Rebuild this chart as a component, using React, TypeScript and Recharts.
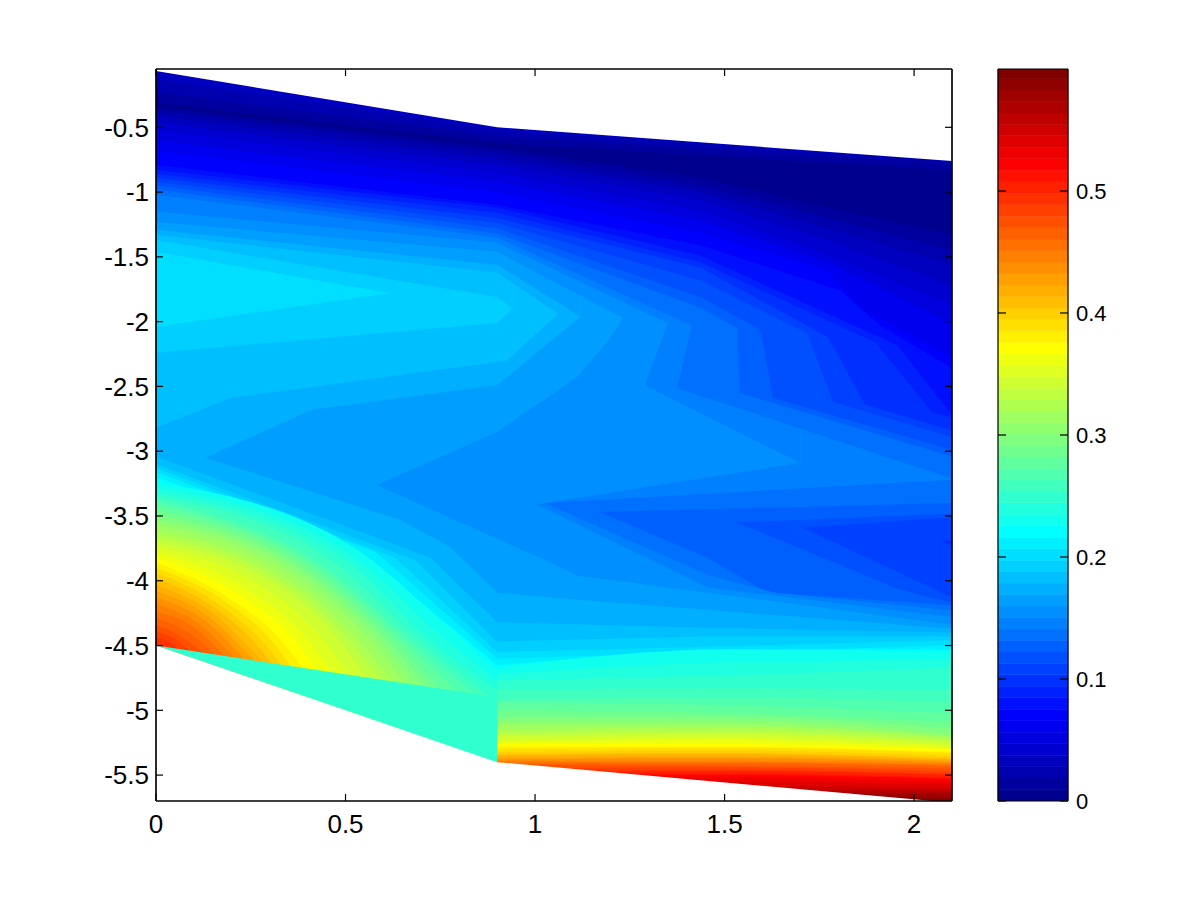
import { Area, Bar, BarChart, ComposedChart, XAxis, YAxis } from "recharts";

type Pt = [number, number];
type Contour = [number, Pt[]];

// axis limits and ticks
const X_MIN = 0;
const X_MAX = 2.1;
const Y_TOP = -0.05;
const Y_BOT = -5.7;
const xTicks = [0, 0.5, 1, 1.5, 2];
const yTicks = [-5.5, -5, -4.5, -4, -3.5, -3, -2.5, -2, -1.5, -1, -0.5];
const barTicks = [0, 0.1, 0.2, 0.3, 0.4, 0.5];

// section outline, white outside of it
const surface: Pt[] = [[0, -0.065], [0.9, -0.5], [2.1, -0.76]];
const seabed: Pt[] = [[0, -4.5], [0.9, -5.4], [2.05, -5.7], [2.1, -5.7]];
const wedgeTop: Pt[] = [[0, -4.5], [0.9, -4.9]];

// level, then the contour that level fills up to the surface from (high levels first)
const aboveContours: Contour[] = [
  [20, [[0, -1.46], [0.617, -1.78]]],
  [19, [[0, -1.37], [0.9, -1.81], [0.94, -1.9]]],
  [18, [[0, -1.33], [0.9, -1.62], [1.06, -1.94]]],
  [17, [[0, -1.29], [0.9, -1.56], [1.12, -1.96]]],
  [16, [[0, -1.23], [0.9, -1.46], [1.232, -1.97]]],
  [15, [[0, -1.15], [0.9, -1.39], [1.35, -2.01]]],
  [14, [[0, -1.02], [0.9, -1.35], [1.414, -2.03]]],
  [13, [[0, -0.98], [0.9, -1.32], [1.435, -1.89], [1.533, -2.05], [1.54, -2.55], [2.1, -3.04]]],
  [12, [[0, -0.95], [0.9, -1.28], [1.435, -1.81], [1.594, -2.06], [1.628, -2.59], [2.1, -2.99]]],
  [11, [[0, -0.92], [0.9, -1.24], [1.435, -1.68], [1.718, -2.09], [1.786, -2.62], [2.1, -2.89]]],
  [10, [[0, -0.89], [0.9, -1.2], [1.435, -1.58], [1.773, -2.12], [1.87, -2.64], [2.1, -2.84]]],
  [9, [[0, -0.86], [0.9, -1.16], [1.435, -1.54], [1.897, -2.16], [2.048, -2.7], [2.1, -2.74]]],
  [8, [[0, -0.83], [0.9, -1.12], [1.435, -1.49], [1.955, -2.18], [2.1, -2.72]]],
  [7, [[0, -0.79], [0.9, -1.1], [1.435, -1.41], [1.805, -1.76], [1.91, -2.03], [2.1, -2.36]]],
  [6, [[0, -0.68], [0.9, -1.0], [1.435, -1.31], [1.77, -1.6], [1.865, -1.91], [2.1, -2.27]]],
  [5, [[0, -0.6], [0.9, -0.92], [1.435, -1.22], [1.77, -1.54], [2.1, -2.02]]],
  [4, [[0, -0.52], [0.9, -0.85], [1.435, -1.14], [1.75, -1.46], [2.1, -1.87]]],
  [3, [[0, -0.46], [0.9, -0.79], [1.435, -1.06], [1.77, -1.37], [2.1, -1.72]]],
  [2, [[0, -0.41], [0.9, -0.74], [1.435, -1.0], [1.77, -1.28], [2.1, -1.56]]],
  [1, [[0, -0.37], [0.9, -0.69], [1.435, -0.95], [1.77, -1.2], [2.1, -1.45]]],
  [0, [[0, -0.34], [0.9, -0.66], [1.435, -0.89], [1.77, -1.12], [2.1, -1.33]]],
];

// thin skin of slightly higher values right under the surface
const surfaceCaps: Contour[] = [
  [1, [[0, -0.31], [0.9, -0.62], [2.1, -0.83]]],
  [2, [[0, -0.23], [0.9, -0.57], [2.1, -0.78]]],
  [3, [[0, -0.13], [0.9, -0.52], [2.1, -0.76]]],
];

// lenses and the return side of the fingers, filled down to the axis floor
const fingerContours: Contour[] = [
  [20, [[0, -2.04], [0.617, -1.78], [0.617, Y_TOP], [2.1, Y_TOP]]],
  [19, [[0, -2.24], [0.9, -2.01], [0.94, -1.9], [0.94, Y_TOP], [2.1, Y_TOP]]],
  [18, [[0, -2.82], [0.195, -2.59], [0.926, -2.3], [1.06, -1.94], [1.06, Y_TOP], [2.1, Y_TOP]]],
  [17, [[0.13, -3.05], [0.41, -2.68], [0.9, -2.49], [1.12, -1.96], [1.12, Y_TOP], [2.1, Y_TOP]]],
  [16, [[0.583, -3.26], [0.9, -2.85], [1.11, -2.43], [1.19, -2.16], [1.232, -1.97], [1.232, Y_TOP], [2.1, Y_TOP]]],
  [15, [[1.005, -3.41], [1.7, -3.09], [1.7, Y_TOP], [2.1, Y_TOP]]],
  [14, [[1.026, -3.4], [2.1, -3.22]]],
  [13, [[1.17, -3.47], [2.1, -3.4]]],
  [12, [[1.533, -3.55], [2.1, -3.48]]],
  [11, [[1.707, -3.59], [2.1, -3.51]]],
  [10, [[2.069, -3.69], [2.1, -3.69]]],
];

// x, lower, upper: the fold of levels 15 and 14 where the contour doubles back
const fold15: [number, number, number][] = [
  [1.29, -2.49, -2.49],
  [1.35, -2.58, -2.01],
  [1.35, -2.58, Y_TOP],
  [1.7, -3.09, Y_TOP],
];
const fold14: [number, number, number][] = [
  [1.375, -2.51, -2.51],
  [1.414, -2.55, -2.03],
  [1.414, -2.55, Y_TOP],
  [2.1, -3.21, Y_TOP],
];

// rising values toward the bottom, low levels first
const belowContours: Contour[] = [
  [11, [[2.069, -3.69], [2.1, -3.73]]],
  [12, [[1.707, -3.59], [2.1, -4.13]]],
  [13, [[1.533, -3.55], [1.963, -4.07], [2.1, -4.17]]],
  [14, [[1.17, -3.47], [1.454, -3.82], [1.612, -4.09], [2.1, -4.19]]],
  [15, [[1.026, -3.4], [1.46, -3.96], [1.63, -4.09], [2.1, -4.23]]],
  [16, [[1.005, -3.41], [1.454, -4.05], [2.1, -4.28]]],
  [17, [[0.583, -3.26], [1.04, -3.86], [1.11, -3.96], [2.1, -4.34]]],
  [18, [[0.13, -3.05], [0.644, -3.53], [0.776, -3.74], [0.9, -4.09], [1.04, -4.13], [2.1, -4.37]]],
  [19, [[0, -3.04], [0.723, -3.82], [0.9, -4.32], [1.435, -4.36], [2.1, -4.4]]],
  [20, [[0, -3.1], [0.683, -3.84], [0.9, -4.47], [1.435, -4.43], [2.1, -4.43]]],
  [21, [[0, -3.13], [0.63, -3.82], [0.9, -4.55], [2.1, -4.46]]],
  [22, [[0, -3.16], [0.58, -3.78], [0.9, -4.6], [2.1, -4.5]]],
  [23, [[0, -3.2], [0.525, -3.75], [0.9, -4.65], [1.435, -4.53], [2.1, -4.53]]],
];

// warm part left of the step at x = 0.9
const leftBlock: Contour[] = [
  [24, [[0, -3.24], [0.54, -3.78], [0.75, -4.3], [0.9, -4.69]]],
  [25, [[0, -3.28], [0.52, -3.81], [0.735, -4.38], [0.9, -4.77]]],
  [26, [[0, -3.32], [0.5, -3.84], [0.723, -4.46], [0.9, -4.84]]],
  [27, [[0, -3.35], [0.48, -3.88], [0.695, -4.46], [0.875, -4.88]]],
  [28, [[0, -3.38], [0.46, -3.92], [0.67, -4.46], [0.855, -4.9]]],
  [29, [[0, -3.41], [0.435, -3.91], [0.645, -4.44], [0.81, -4.9]]],
  [30, [[0, -3.45], [0.41, -3.9], [0.617, -4.42], [0.763, -4.88]]],
  [31, [[0, -3.49], [0.38, -3.89], [0.59, -4.4], [0.73, -4.86]]],
  [32, [[0, -3.53], [0.354, -3.88], [0.565, -4.38], [0.697, -4.84]]],
  [33, [[0, -3.57], [0.33, -3.89], [0.54, -4.38], [0.665, -4.82]]],
  [34, [[0, -3.62], [0.3, -3.9], [0.51, -4.38], [0.63, -4.8]]],
  [35, [[0, -3.66], [0.275, -3.91], [0.485, -4.38], [0.595, -4.78]]],
  [36, [[0, -3.7], [0.25, -3.92], [0.46, -4.38], [0.56, -4.77]]],
  [37, [[0, -3.74], [0.235, -3.97], [0.425, -4.4], [0.515, -4.75]]],
  [38, [[0, -3.78], [0.22, -4.03], [0.39, -4.42], [0.47, -4.73]]],
  [39, [[0, -3.82], [0.21, -4.09], [0.36, -4.44], [0.43, -4.71]]],
  [40, [[0, -3.86], [0.2, -4.15], [0.33, -4.46], [0.39, -4.69]]],
  [41, [[0, -3.9], [0.187, -4.17], [0.31, -4.48], [0.36, -4.68]]],
  [42, [[0, -3.94], [0.175, -4.2], [0.29, -4.5], [0.335, -4.67]]],
  [43, [[0, -3.98], [0.165, -4.23], [0.27, -4.51], [0.31, -4.66]]],
  [44, [[0, -4.03], [0.155, -4.26], [0.25, -4.53], [0.29, -4.65]]],
  [45, [[0, -4.08], [0.14, -4.28], [0.23, -4.53], [0.265, -4.64]]],
  [46, [[0, -4.13], [0.125, -4.3], [0.21, -4.53], [0.24, -4.63]]],
  [47, [[0, -4.18], [0.107, -4.32], [0.18, -4.51], [0.215, -4.62]]],
  [48, [[0, -4.24], [0.09, -4.34], [0.155, -4.5], [0.19, -4.61]]],
  [49, [[0, -4.29], [0.075, -4.38], [0.142, -4.53], [0.165, -4.6]]],
  [50, [[0, -4.34], [0.06, -4.42], [0.13, -4.57]]],
  [51, [[0, -4.39], [0.05, -4.45], [0.1, -4.58]]],
  [52, [[0, -4.44], [0.04, -4.48], [0.075, -4.6]]],
];

// right of the step the layers run almost flat
const rightBlock: Contour[] = [
  [24, [[0.9, -4.67], [1.5, -4.53], [2.1, -4.55]]],
  [25, [[0.9, -4.72], [1.5, -4.63], [2.1, -4.61]]],
  [26, [[0.9, -4.77], [1.5, -4.73], [2.1, -4.67]]],
  [27, [[0.9, -4.84], [1.5, -4.83], [2.1, -4.84]]],
  [28, [[0.9, -4.92], [1.5, -4.9], [2.1, -4.94]]],
  [29, [[0.9, -4.94], [1.5, -4.96], [2.1, -5.02]]],
  [30, [[0.9, -5.0], [1.5, -5.02], [2.1, -5.09]]],
  [31, [[0.9, -5.05], [1.5, -5.05], [2.1, -5.14]]],
  [32, [[0.9, -5.08], [1.5, -5.08], [2.1, -5.18]]],
  [33, [[0.9, -5.11], [1.5, -5.11], [2.1, -5.2]]],
  [34, [[0.9, -5.15], [1.5, -5.13], [2.1, -5.21]]],
  [35, [[0.9, -5.18], [1.5, -5.16], [2.1, -5.23]]],
  [36, [[0.9, -5.2], [1.5, -5.18], [2.1, -5.25]]],
  [37, [[0.9, -5.23], [1.5, -5.21], [2.1, -5.27]]],
  [38, [[0.9, -5.25], [1.5, -5.23], [2.1, -5.29]]],
  [39, [[0.9, -5.26], [1.5, -5.26], [2.1, -5.3]]],
  [40, [[0.9, -5.28], [1.5, -5.28], [2.1, -5.32]]],
  [41, [[0.9, -5.3], [1.5, -5.29], [2.1, -5.33]]],
  [42, [[0.9, -5.32], [1.5, -5.31], [2.1, -5.35]]],
  [43, [[0.9, -5.34], [1.5, -5.33], [2.1, -5.37]]],
  [44, [[0.9, -5.35], [1.5, -5.34], [2.1, -5.38]]],
  [45, [[0.9, -5.37], [1.5, -5.36], [2.1, -5.39]]],
  [46, [[0.9, -5.38], [1.5, -5.37], [2.1, -5.4]]],
  [47, [[0.9, -5.39], [1.5, -5.39], [2.1, -5.41]]],
  [48, [[0.9, -5.4], [1.5, -5.4], [2.1, -5.42]]],
  [49, [[0.9, -5.41], [1.5, -5.41], [2.1, -5.43]]],
  [50, [[0.9, -5.42], [1.5, -5.43], [2.1, -5.45]]],
  [51, [[0.9, -5.45], [1.5, -5.44], [2.1, -5.47]]],
  [52, [[0.9, -5.47], [1.5, -5.46], [2.1, -5.49]]],
  [53, [[0.9, -5.49], [1.5, -5.47], [2.1, -5.5]]],
  [54, [[0.9, -5.5], [1.5, -5.49], [2.1, -5.52]]],
  [55, [[0.9, -5.53], [1.5, -5.5], [2.1, -5.53]]],
  [56, [[0.9, -5.55], [1.5, -5.52], [2.1, -5.55]]],
  [57, [[0.9, -5.58], [1.5, -5.55], [2.1, -5.57]]],
  [58, [[0.9, -5.6], [1.5, -5.58], [2.1, -5.6]]],
  [59, [[0.9, -5.63], [1.5, -5.6], [2.1, -5.62]]],
  [60, [[0.9, -5.65], [1.5, -5.62], [2.1, -5.63]]],
  [61, [[0.9, -5.67], [1.5, -5.64], [2.1, -5.65]]],
  [62, [[0.9, -5.69], [1.5, -5.66], [2.1, -5.67]]],
  [63, [[0.9, -5.7], [1.5, -5.68], [2.1, -5.69]]],
];

// colorbar band heights, one for each of the 64 colours
const barSteps = [
  0.0094, 0.0094, 0.0094, 0.0094, 0.0094, 0.0094, 0.0094, 0.0094, 0.0094, 0.0094, 0.0094, 0.0094, 0.0094,
  0.0094, 0.0094, 0.0094, 0.0094, 0.0094, 0.0094, 0.0094, 0.0094, 0.0094, 0.0094, 0.0094, 0.0094, 0.0094,
  0.0094, 0.0094, 0.0094, 0.0094, 0.0094, 0.0094, 0.0094, 0.0094, 0.0094, 0.0094, 0.0094, 0.0094, 0.0094,
  0.0094, 0.0094, 0.0094, 0.0094, 0.0094, 0.0094, 0.0094, 0.0094, 0.0094, 0.0094, 0.0094, 0.0094, 0.0094,
  0.0094, 0.0094, 0.0094, 0.0094, 0.0094, 0.0094, 0.0094, 0.0094, 0.0094, 0.0094, 0.0094, 0.0094,
];

// MATLAB jet(64), level 0..63
function jet(i: number) {
  const b = i <= 7 ? 0.5625 + 0.0625 * i : i <= 23 ? 1 : i <= 39 ? 1 - (i - 23) * 0.0625 : 0;
  const g = i < 8 ? 0 : i <= 23 ? (i - 7) * 0.0625 : i <= 39 ? 1 : i <= 55 ? 1 - (i - 39) * 0.0625 : 0;
  const r = i <= 23 ? 0 : i <= 39 ? (i - 23) * 0.0625 : i <= 55 ? 1 : 1 - (i - 55) * 0.0625;
  return `rgb(${Math.round(r * 255)},${Math.round(g * 255)},${Math.round(b * 255)})`;
}

type Patch = {
  fill: string;
  curve: "linear" | "monotoneX";
  rows: { x: number; band: [number, number] }[];
};

const fillAbove = (level: number, pts: Pt[]): Patch => ({
  fill: jet(level),
  curve: "linear",
  rows: pts.map(([x, y]) => ({ x, band: [y, Y_TOP] })),
});
const fillBelow = (level: number, pts: Pt[], curve: Patch["curve"] = "linear"): Patch => ({
  fill: jet(level),
  curve,
  rows: pts.map(([x, y]) => ({ x, band: [Y_BOT, y] })),
});
const fillFold = (level: number, rows: [number, number, number][]): Patch => ({
  fill: jet(level),
  curve: "linear",
  rows: rows.map(([x, lo, hi]) => ({ x, band: [lo, hi] })),
});

// painter's order: every patch goes over the ones before it
const patches: Patch[] = [];
patches.push({
  fill: jet(21),
  curve: "linear",
  rows: [
    { x: X_MIN, band: [Y_BOT, Y_TOP] },
    { x: X_MAX, band: [Y_BOT, Y_TOP] },
  ],
});
for (const [level, pts] of aboveContours) {
  patches.push(fillAbove(level, pts));
  const finger = fingerContours.find((f) => f[0] === level);
  if (finger) patches.push(fillBelow(level, finger[1]));
  if (level === 15) patches.push(fillFold(15, fold15));
  if (level === 14) patches.push(fillFold(14, fold14));
}
for (const [level, pts] of surfaceCaps) patches.push(fillAbove(level, pts));
for (const [level, pts] of belowContours) patches.push(fillBelow(level, pts));
for (const [level, pts] of leftBlock) patches.push(fillBelow(level, pts, "monotoneX"));
for (const [level, pts] of rightBlock) patches.push(fillBelow(level, pts, "monotoneX"));
patches.push({
  fill: jet(26),
  curve: "linear",
  rows: [
    { x: wedgeTop[0][0], band: [seabed[0][1], wedgeTop[0][1]] },
    { x: wedgeTop[1][0], band: [seabed[1][1], wedgeTop[1][1]] },
  ],
});
patches.push({ fill: "#fff", curve: "linear", rows: surface.map(([x, y]) => ({ x, band: [y, Y_TOP] })) });
patches.push({ fill: "#fff", curve: "linear", rows: seabed.map(([x, y]) => ({ x, band: [Y_BOT, y] })) });

// keeps the extra axes alive, draws nothing
const frameRows = [
  { x: X_MIN, band: [Y_BOT, Y_TOP] },
  { x: X_MAX, band: [Y_BOT, Y_TOP] },
];

const barRow: Record<string, number | string> = { name: "c", none: 0 };
barSteps.forEach((step, i) => {
  barRow[`b${i}`] = step;
});

const FONT = "'Liberation Sans', Arial, sans-serif";
const black = { stroke: "#000", strokeWidth: 1.2 };
const tickText = { fill: "#000", fontSize: 26, fontFamily: FONT };
const barText = { fill: "#000", fontSize: 22, fontFamily: FONT };
const noLabel = () => "";
const layer = { position: "absolute", left: 0, top: 0 } as const;
const plotMargin = { top: 68, right: 248, bottom: 59, left: 86 };
const barMargin = { top: 68, right: 132, bottom: 98, left: 997 };

function hiddenArea(xId: string | number, yId: string | number) {
  return (
    <Area
      data={frameRows}
      dataKey="band"
      xAxisId={xId}
      yAxisId={yId}
      fill="none"
      stroke="none"
      dot={false}
      activeDot={false}
      legendType="none"
      isAnimationActive={false}
    />
  );
}

export default function App() {
  return (
    <div style={{ ...layer, width: 1201, height: 900, background: "#fff" }}>
      {/* contour patches, ticks and labels: the patches hide the ticks as in the original */}
      <div style={layer}>
        <ComposedChart width={1201} height={900} margin={plotMargin}>
          {patches.map((p, i) => (
            <Area
              key={i}
              data={p.rows}
              dataKey="band"
              type={p.curve}
              fill={p.fill}
              fillOpacity={1}
              stroke="none"
              dot={false}
              activeDot={false}
              legendType="none"
              isAnimationActive={false}
            />
          ))}
          {hiddenArea("top", "right")}
          <XAxis
            dataKey="x"
            type="number"
            domain={[X_MIN, X_MAX]}
            ticks={xTicks}
            interval={0}
            height={40}
            tickSize={-7}
            tickMargin={21}
            tick={tickText}
            axisLine={black}
            tickLine={black}
            allowDataOverflow
          />
          <XAxis
            xAxisId="top"
            orientation="top"
            dataKey="x"
            type="number"
            domain={[X_MIN, X_MAX]}
            ticks={xTicks}
            interval={0}
            height={1}
            tickSize={-7}
            tickFormatter={noLabel}
            axisLine={black}
            tickLine={black}
            allowDataOverflow
          />
          <YAxis
            type="number"
            domain={[Y_BOT, Y_TOP]}
            ticks={yTicks}
            interval={0}
            width={70}
            tickSize={-7}
            tickMargin={14}
            tick={tickText}
            axisLine={black}
            tickLine={black}
            allowDataOverflow
          />
          <YAxis
            yAxisId="right"
            orientation="right"
            type="number"
            domain={[Y_BOT, Y_TOP]}
            ticks={yTicks}
            interval={0}
            width={1}
            tickSize={-7}
            tickFormatter={noLabel}
            axisLine={black}
            tickLine={black}
            allowDataOverflow
          />
        </ComposedChart>
      </div>
      {/* box outline over the patches */}
      <div style={layer}>
        <ComposedChart width={1201} height={900} margin={plotMargin}>
          {hiddenArea(0, 0)}
          {hiddenArea("top", "right")}
          <XAxis dataKey="x" type="number" domain={[X_MIN, X_MAX]} height={40} tick={false} tickLine={false} axisLine={black} />
          <XAxis xAxisId="top" orientation="top" dataKey="x" type="number" domain={[X_MIN, X_MAX]} height={1} tick={false} tickLine={false} axisLine={black} />
          <YAxis type="number" domain={[Y_BOT, Y_TOP]} width={70} tick={false} tickLine={false} axisLine={black} />
          <YAxis yAxisId="right" orientation="right" type="number" domain={[Y_BOT, Y_TOP]} width={1} tick={false} tickLine={false} axisLine={black} />
        </ComposedChart>
      </div>
      {/* colorbar */}
      <div style={layer}>
        <BarChart
          width={1201}
          height={900}
          data={[barRow]}
          barCategoryGap={0}
          margin={{ top: 69, right: 133, bottom: 99, left: 998 }}
        >
          {barSteps.map((_, i) => (
            <Bar
              key={i}
              dataKey={`b${i}`}
              stackId="bar"
              fill={jet(i)}
              stroke={jet(i)}
              strokeWidth={0.6}
              isAnimationActive={false}
            />
          ))}
          <XAxis dataKey="name" hide />
          <YAxis type="number" domain={[0, 0.6]} hide allowDataOverflow />
        </BarChart>
      </div>
      <div style={layer}>
        <BarChart width={1201} height={900} data={[barRow]} margin={barMargin}>
          <Bar dataKey="none" xAxisId="bottom" yAxisId="left" fill="none" isAnimationActive={false} />
          <Bar dataKey="none" xAxisId="top" yAxisId="side" fill="none" isAnimationActive={false} />
          <XAxis xAxisId="bottom" dataKey="name" height={1} tick={false} tickLine={false} axisLine={black} />
          <XAxis xAxisId="top" orientation="top" dataKey="name" height={1} tick={false} tickLine={false} axisLine={black} />
          <YAxis
            yAxisId="left"
            type="number"
            domain={[0, 0.6]}
            ticks={barTicks}
            interval={0}
            width={1}
            tickSize={-8}
            tickFormatter={noLabel}
            axisLine={black}
            tickLine={black}
          />
          <YAxis
            yAxisId="side"
            orientation="right"
            type="number"
            domain={[0, 0.6]}
            ticks={barTicks}
            interval={0}
            width={1}
            tickSize={-8}
            tickMargin={16}
            tick={barText}
            axisLine={black}
            tickLine={black}
          />
        </BarChart>
      </div>
    </div>
  );
}
